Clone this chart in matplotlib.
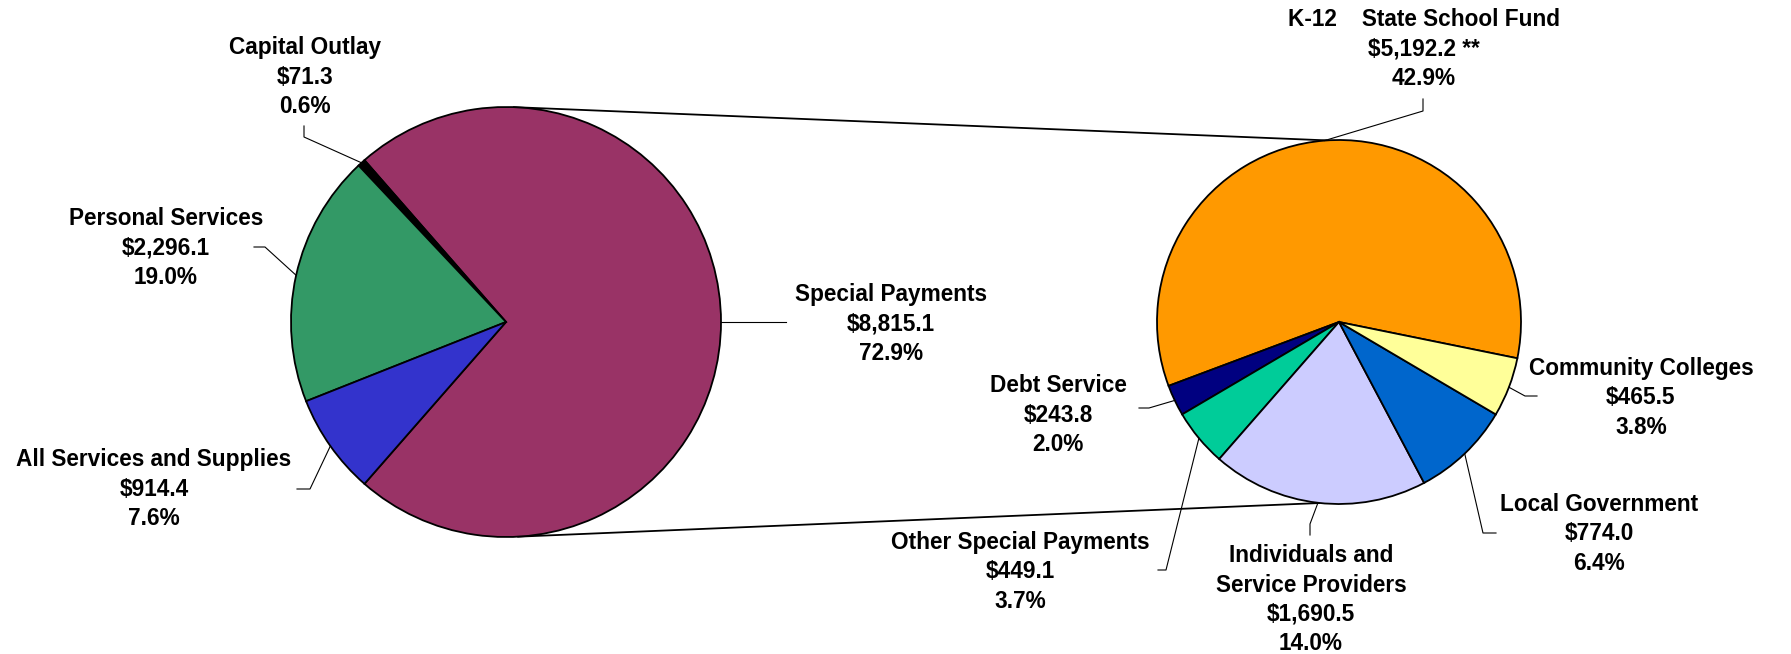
import numpy as np
import matplotlib
matplotlib.use("Agg")
import matplotlib.pyplot as plt

# ---- data (millions of dollars) ----
main_labels = ["Special Payments", "Capital Outlay", "Personal Services",
               "All Services and Supplies"]
main_values = [8815.1, 71.3, 2296.1, 914.4]
main_pcts = ["72.9%", "0.6%", "19.0%", "7.6%"]
main_colors = ["#993366", "#000000", "#339966", "#3333CC"]

sub_labels = ["K-12    State School Fund", "Debt Service", "Other Special Payments",
              "Individuals and\nService Providers", "Local Government",
              "Community Colleges"]
sub_values = [5192.2, 243.8, 449.1, 1690.5, 774.0, 465.5]
sub_pcts = ["42.9%", "2.0%", "3.7%", "14.0%", "6.4%", "3.8%"]
sub_notes = [" **", "", "", "", "", ""]
sub_colors = ["#FF9900", "#000080", "#00CC99", "#CCCCFF", "#0066CC", "#FFFF99"]

W, H = 1791, 654
FONT = "Liberation Sans"
FS = 16.3
LINE = 29.5


def Y(y):
    return H - y


fig = plt.figure(figsize=(W / 100, H / 100), dpi=100)
ax = fig.add_axes([0, 0, 1, 1])

# left pie: the "Special Payments" slice is centred on the right-hand side
c1, r1 = (506, Y(322)), 215
start1 = -main_values[0] / sum(main_values) * 360 / 2
w1, _ = ax.pie(main_values, colors=main_colors, center=c1, radius=r1,
               startangle=start1, counterclock=True,
               wedgeprops=dict(edgecolor="black", linewidth=1.3))

# right pie: breakdown of Special Payments
c2, r2 = (1339, Y(322)), 182
w2, _ = ax.pie(sub_values, colors=sub_colors, center=c2, radius=r2,
               startangle=-11.5, counterclock=True,
               wedgeprops=dict(edgecolor="black", linewidth=1.3))


def edge_point(c, r, ang):
    a = np.deg2rad(ang)
    return c[0] + r * np.cos(a), c[1] + r * np.sin(a)


# connector lines between the two pies
for a_left, a_right in [(88.1, 93.8), (-87.0, -96.0)]:
    p1 = edge_point(c1, r1, a_left)
    p2 = edge_point(c2, r2, a_right)
    ax.plot([p1[0], p2[0]], [p1[1], p2[1]], color="black", lw=1.3,
            zorder=0.5, solid_capstyle="butt")


def label(cx, base, lines):
    for i, t in enumerate(lines):
        ax.text(cx, Y(base + i * LINE), t, ha="center", va="baseline",
                fontsize=FS, fontweight="bold", family=FONT, color="black")


def leader(c, r, wedge, pts):
    mid = (wedge.theta1 + wedge.theta2) / 2
    x0, y0 = edge_point(c, r, mid)
    xs = [x0] + [p[0] for p in pts]
    ys = [y0] + [Y(p[1]) for p in pts]
    ax.plot(xs, ys, color="black", lw=0.8, zorder=3)


# label layout: (centre x, first baseline, leader elbow points)
main_layout = [
    (891, 301, [(786, 322)]),
    (305, 54, [(304, 137), (304, 126)]),
    (166, 225, [(265, 247), (254, 247)]),
    (154, 466, [(310, 489), (297, 489)]),
]
for (cx, base, pts), name, v, p, w in zip(main_layout, main_labels,
                                          main_values, main_pcts, w1):
    label(cx, base, [name, f"${v:,.1f}", p])
    leader(c1, r1, w, pts)

sub_layout = [
    (1424, 26, [(1423, 111), (1423, 99)]),
    (1058, 392, [(1149, 408), (1139, 408)]),
    (1020, 549, [(1166, 570), (1158, 570)]),
    (1311, 562, [(1310, 524), (1310, 535)]),
    (1599, 511, [(1483, 533), (1496, 533)]),
    (1641, 375, [(1525, 396), (1537, 396)]),
]
for (cx, base, pts), name, v, p, note, w in zip(sub_layout, sub_labels,
                                                sub_values, sub_pcts,
                                                sub_notes, w2):
    label(cx, base, name.split("\n") + [f"${v:,.1f}{note}", p])
    leader(c2, r2, w, pts)

ax.set_xlim(0, W)
ax.set_ylim(0, H)
ax.set_aspect("auto")
ax.axis("off")

fig.savefig("out.png", dpi=100, facecolor="white")
